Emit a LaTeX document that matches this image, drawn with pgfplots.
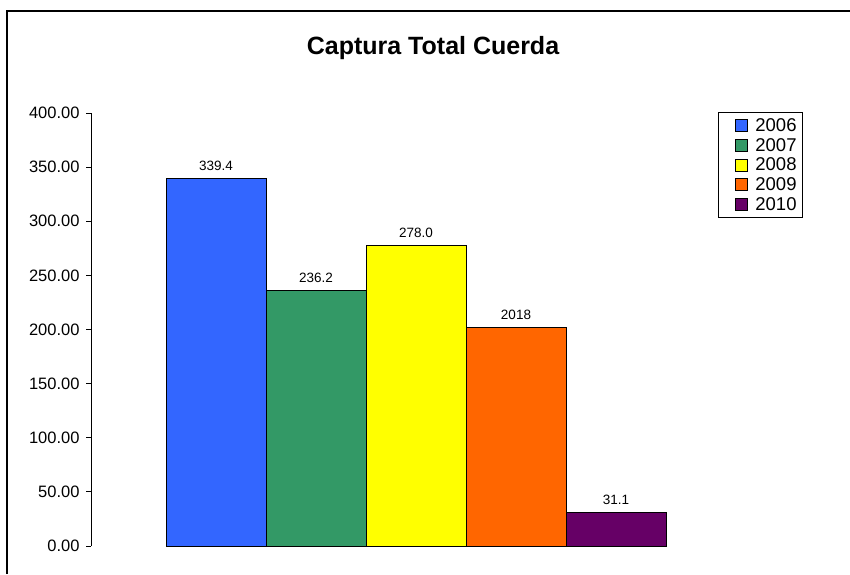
\documentclass[border=0pt]{standalone}
\usepackage{fontspec}
\setmainfont{Liberation Sans}
\usepackage{pgfplots}
\pgfplotsset{compat=1.18}
\definecolor{cblue}{HTML}{3366FF}
\definecolor{cgreen}{HTML}{339966}
\definecolor{cyellow}{HTML}{FFFF00}
\definecolor{corange}{HTML}{FF6600}
\definecolor{cpurple}{HTML}{660066}
\begin{document}
\begin{tikzpicture}[x=1pt,y=1pt]
\useasboundingbox (0,0) rectangle (850,574);
\fill[white] (0,0) rectangle (850,574);
\draw[line width=1.6pt] (7,0) -- (7,563) -- (850,563);
\node[font=\fontsize{25}{28}\selectfont\bfseries] at (433,526) {Captura Total Cuerda};
\begin{axis}[
  at={(91pt,28pt)}, anchor=south west,
  scale only axis, width=650pt, height=433pt,
  xmin=-0.25, xmax=6.25, ymin=0, ymax=400,
  axis y line*=left, hide x axis,
  ytick={0,50,...,400},
  tick align=outside, major tick length=5pt,
  yticklabel style={font=\fontsize{16.5}{18}\selectfont, xshift=-3pt, /pgf/number format/.cd, fixed, zerofill, precision=2, assume math mode=true},
  y axis line style={line width=0.8pt}, ytick style={line width=0.8pt, black},
  ybar, bar width=1, bar shift=0pt,
  every axis plot/.append style={draw=black, line width=0.8pt},
  nodes near coords style={font=\fontsize{13.5}{15}\selectfont, yshift=4pt},
  legend style={at={(0.9646,1.0023)}, anchor=north west, draw=black, line width=0.8pt,
     font=\fontsize{18.5}{19}\selectfont, row sep=1.3pt, inner xsep=4pt, inner ysep=4pt,
     legend cell align=left},
  legend image code/.code={\path[draw=none,fill=none] (0pt,0pt) -- (31pt,0pt);
     \draw[#1, line width=0.6pt] (13pt,-6pt) rectangle (25pt,6pt);},
]
\addplot[fill=cblue, nodes near coords={339.4}] coordinates {(1,339.4)};
\addlegendentry{2006\hspace{3pt}}
\addplot[fill=cgreen, nodes near coords={236.2}] coordinates {(2,236.2)};
\addlegendentry{2007\hspace{3pt}}
\addplot[fill=cyellow, nodes near coords={278.0}] coordinates {(3,278.0)};
\addlegendentry{2008\hspace{3pt}}
\addplot[fill=corange, nodes near coords={2018}] coordinates {(4,201.8)};
\addlegendentry{2009\hspace{3pt}}
\addplot[fill=cpurple, nodes near coords={31.1}] coordinates {(5,31.1)};
\addlegendentry{2010\hspace{3pt}}
\end{axis}
\end{tikzpicture}
\end{document}
